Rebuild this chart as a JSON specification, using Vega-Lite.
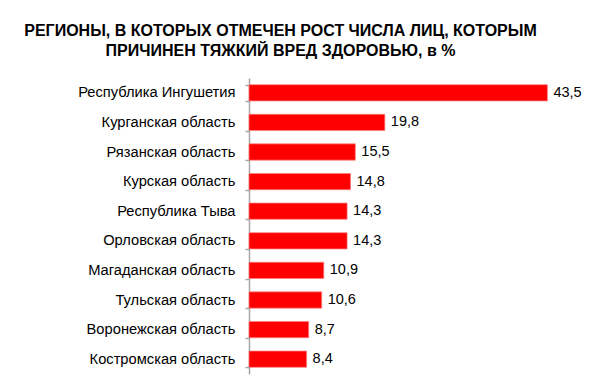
{
  "$schema": "https://vega.github.io/schema/vega-lite/v6.json",
  "width": 343,
  "height": 296,
  "autosize": {"type": "none"},
  "padding": {"left": 249, "top": 78, "right": 7, "bottom": 12},
  "background": "white",
  "title": {
    "text": ["РЕГИОНЫ, В КОТОРЫХ ОТМЕЧЕН РОСТ ЧИСЛА ЛИЦ, КОТОРЫМ", "ПРИЧИНЕН ТЯЖКИЙ ВРЕД ЗДОРОВЬЮ, в %"],
    "font": "Liberation Sans",
    "fontSize": 16,
    "fontWeight": "bold",
    "color": "black",
    "anchor": "middle",
    "frame": "group",
    "dx": -140,
    "offset": 11,
    "lineHeight": 20.3
  },
  "config": {
    "view": {"stroke": null},
    "locale": {"number": {"decimal": ",", "thousands": " ", "grouping": [3], "currency": ["", " ₽"]}}
  },
  "data": {
    "values": [
      {"region": "Республика Ингушетия", "value": 43.5},
      {"region": "Курганская область", "value": 19.8},
      {"region": "Рязанская область", "value": 15.5},
      {"region": "Курская область", "value": 14.8},
      {"region": "Республика Тыва", "value": 14.3},
      {"region": "Орловская область", "value": 14.3},
      {"region": "Магаданская область", "value": 10.9},
      {"region": "Тульская область", "value": 10.6},
      {"region": "Воронежская область", "value": 8.7},
      {"region": "Костромская область", "value": 8.4}
    ]
  },
  "encoding": {
    "y": {
      "field": "region",
      "type": "nominal",
      "sort": null,
      "scale": {"paddingInner": 0.45, "paddingOuter": 0.225},
      "axis": {
        "title": null,
        "domainColor": "#a6a6a6",
        "domainWidth": 1.5,
        "tickColor": "#a6a6a6",
        "tickWidth": 1.5,
        "tickSize": 4,
        "tickBand": "extent",
        "labelFont": "Liberation Sans",
        "labelFontSize": 14.7,
        "labelColor": "black",
        "labelPadding": 10
      }
    },
    "x": {
      "field": "value",
      "type": "quantitative",
      "scale": {"domain": [0, 50]},
      "axis": null
    }
  },
  "layer": [
    {
      "mark": {"type": "bar", "color": "#ff0000", "stroke": "#ff8080", "strokeWidth": 0.7}
    },
    {
      "mark": {"type": "text", "align": "left", "baseline": "middle", "dx": 6, "font": "Liberation Sans", "fontSize": 14.5, "color": "black"},
      "encoding": {"text": {"field": "value", "type": "quantitative", "format": ".1f"}}
    }
  ]
}
